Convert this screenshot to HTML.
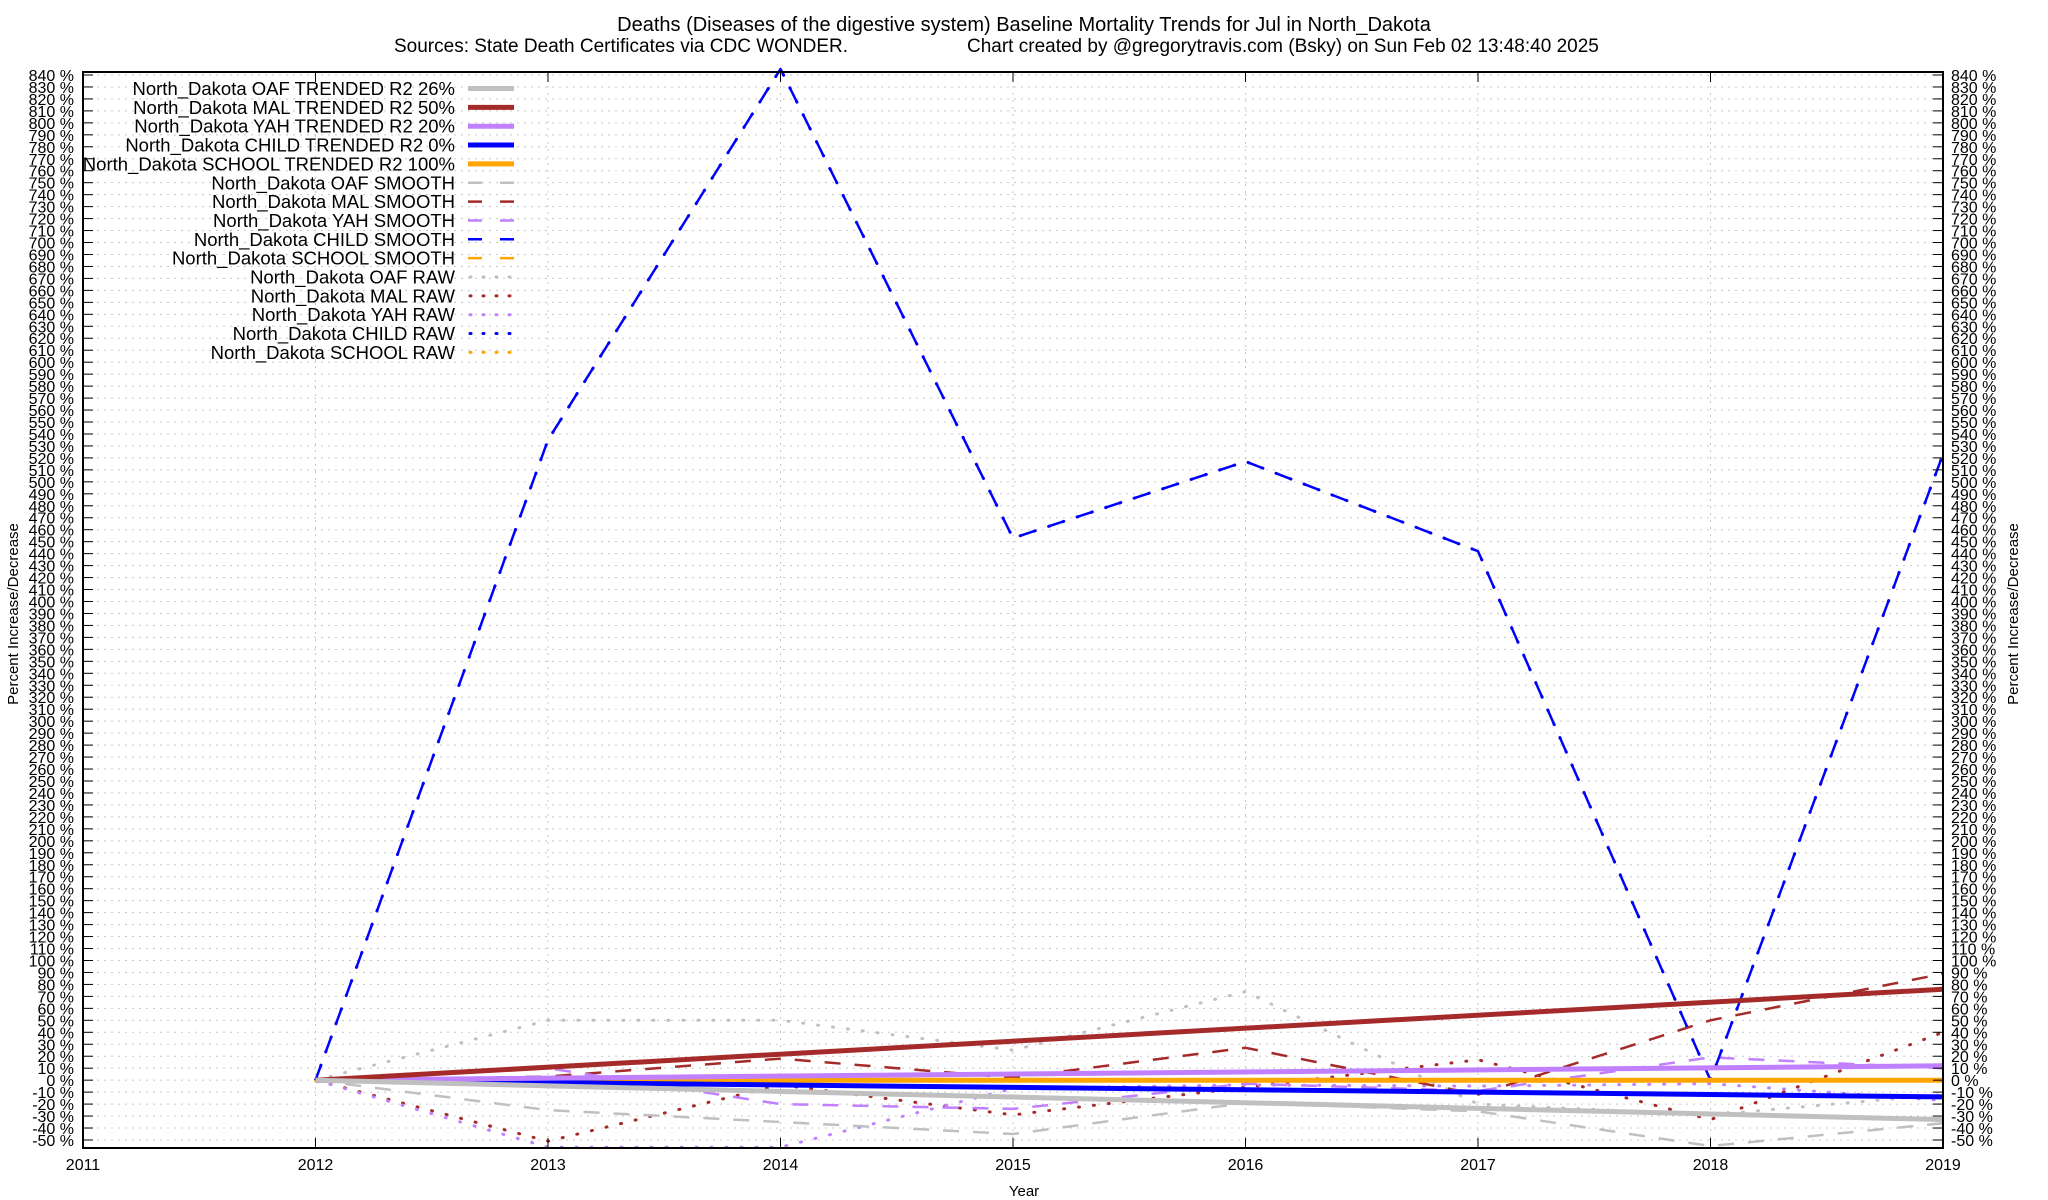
<!DOCTYPE html>
<html><head><meta charset="utf-8">
<style>
html,body{margin:0;padding:0;background:#fff;}
svg{display:block;font-family:"Liberation Sans",Arial,sans-serif;}
</style></head>
<body>
<svg id="chart" width="2048" height="1200" viewBox="0 0 2048 1200" xmlns="http://www.w3.org/2000/svg">
<g id="grid"></g>
<g id="series"></g>
<rect x="83" y="72" width="1860" height="1076" fill="none" stroke="#000" stroke-width="2"/>
<g id="axes"></g>
<text x="1024" y="31" font-size="20" text-anchor="middle">Deaths (Diseases of the digestive system)  Baseline Mortality Trends for Jul in North_Dakota</text>
<text x="394" y="52" font-size="19">Sources: State Death Certificates via CDC WONDER.</text>
<text x="967" y="52" font-size="19">Chart created by @gregorytravis.com (Bsky) on Sun Feb 02 13:48:40 2025</text>
<text transform="translate(18,614) rotate(-90)" font-size="15" text-anchor="middle">Percent Increase/Decrease</text>
<text transform="translate(2018,614) rotate(-90)" font-size="15" text-anchor="middle">Percent Increase/Decrease</text>
<text x="1024" y="1196" font-size="15" text-anchor="middle">Year</text>
<g id="legend"></g>
</svg>
<script>
const years = [2012, 2013, 2014, 2015, 2016, 2017, 2018, 2019];
const xTicks = [2011, 2012, 2013, 2014, 2015, 2016, 2017, 2018, 2019];
const oafTrend = [0, null, null, null, null, null, null, -33];
const malTrend = [0, null, null, null, null, null, null, 76];
const yahTrend = [0, null, null, null, null, null, null, 12];
const childTrend = [0, null, null, null, null, null, null, -14];
const schoolTrend = [0, null, null, null, null, null, null, 0];
const oafSmooth = [0, -25, -35, -45, -19, -26, -55, -36];
const malSmooth = [0, 3, 18, 2, 27, -12, 50, 89];
const yahSmooth = [0, 10, -20, -24, -3, -9, 19, 10];
const childSmooth = [0, 535, 845, 453, 517, 442, 0, 523];
const schoolSmooth = [0, 0, 0, 0, 0, 0, 0, 0];
const oafRaw = [0, 50, 50, 25, 74, -20, -29, -12];
const malRaw = [0, -51, -4, -29, -6, 17, -33, 40];
const yahRaw = [0, -56, -56, -7, -4, -5, -3, -17];
const childRaw = [0, 535, 845, 453, 517, 442, 0, 523];
const schoolRaw = [0, 0, 0, 0, 0, 0, 0, 0];
const legendLabels = ["North_Dakota OAF TRENDED R2  26%","North_Dakota MAL TRENDED R2  50%","North_Dakota YAH TRENDED R2  20%","North_Dakota CHILD TRENDED R2   0%","North_Dakota SCHOOL TRENDED R2 100%","North_Dakota OAF SMOOTH","North_Dakota MAL SMOOTH","North_Dakota YAH SMOOTH","North_Dakota CHILD SMOOTH","North_Dakota SCHOOL SMOOTH","North_Dakota OAF RAW","North_Dakota MAL RAW","North_Dakota YAH RAW","North_Dakota CHILD RAW","North_Dakota SCHOOL RAW"];

const NS = "http://www.w3.org/2000/svg";
const X0 = 83, X1 = 1943, Y0 = 1148, Y1 = 72;
const yMin = -56.7, yMax = 842.5;
function xs(v){ return X0 + (v - 2011) / 8 * (X1 - X0); }
function ys(v){ return Y0 - (v - yMin) / (yMax - yMin) * (Y0 - Y1); }
function mk(tag, attrs, parent){ const e = document.createElementNS(NS, tag); for (const k in attrs) e.setAttribute(k, attrs[k]); parent.appendChild(e); return e; }

const grid = document.getElementById('grid');
const axes = document.getElementById('axes');
for (let v = -50; v <= 840; v += 10) {
  const y = ys(v);
  const gl = mk('line', {x1: X0, x2: X1, y1: y, y2: y, stroke: '#c8c8c8', 'stroke-width': 1, 'stroke-dasharray': '2,5'}, grid);
  
  
  const t1 = mk('line', {x1: X0, x2: X0 + 10, y1: y, y2: y, stroke: '#000', 'stroke-width': 1}, axes);
  
  
  const t2 = mk('line', {x1: X1 - 10, x2: X1, y1: y, y2: y, stroke: '#000', 'stroke-width': 1}, axes);
  
  
  const l = mk('text', {x: 74, y: y + 6, 'font-size': 16, 'text-anchor': 'end'}, axes);
  l.textContent = v + ' %';
  
  
  const r = mk('text', {x: 1951, y: y + 6, 'font-size': 16}, axes);
  r.textContent = v + ' %';
  
  
}
xTicks.forEach(yr => {
  const x = xs(yr);
  const gl = mk('line', {x1: x, x2: x, y1: Y1, y2: Y0, stroke: '#c8c8c8', 'stroke-width': 1, 'stroke-dasharray': '2,5'}, grid);
  
  
  const t = mk('line', {x1: x, x2: x, y1: Y0 - 10, y2: Y0, stroke: '#000', 'stroke-width': 1}, axes);
  
  
  const t2 = mk('line', {x1: x, x2: x, y1: Y1, y2: Y1 + 10, stroke: '#000', 'stroke-width': 1}, axes);
  
  
  const l = mk('text', {x: x, y: 1170, 'font-size': 16, 'text-anchor': 'middle'}, axes);
  l.textContent = yr;
  
  
});

const GREY = '#c0c0c0', MAL = '#a52a2a', YAH = '#c080ff', CHILD = '#0000ff', SCHOOL = '#ffa500';
const styles = {
  trend: {w: 5, dash: null},
  smooth: {w: 2.5, dash: '16,14'},
  raw: {w: 3, dash: '1,14', cap: 'round'}
};
const seriesLayer = document.getElementById('series');
function drawSeries(vals, color, kind, name) {
  const st = styles[kind];
  const pts = [];
  vals.forEach((v, i) => { if (v !== null) pts.push(xs(years[i]).toFixed(1) + ',' + ys(v).toFixed(1)); });
  const attrs = {points: pts.join(' '), fill: 'none', stroke: color, 'stroke-width': st.w, 'stroke-linejoin': 'round'};
  if (st.dash) attrs['stroke-dasharray'] = st.dash;
  if (st.cap) attrs['stroke-linecap'] = st.cap;
  const p = mk('polyline', attrs, seriesLayer);
  
  
}
drawSeries(oafRaw, GREY, 'raw', 'oaf-raw-line');
drawSeries(malRaw, MAL, 'raw', 'mal-raw-line');
drawSeries(yahRaw, YAH, 'raw', 'yah-raw-line');
drawSeries(childRaw, CHILD, 'raw', 'child-raw-line');
drawSeries(schoolRaw, SCHOOL, 'raw', 'school-raw-line');
drawSeries(oafSmooth, GREY, 'smooth', 'oaf-smooth-line');
drawSeries(malSmooth, MAL, 'smooth', 'mal-smooth-line');
drawSeries(yahSmooth, YAH, 'smooth', 'yah-smooth-line');
drawSeries(childSmooth, CHILD, 'smooth', 'child-smooth-line');
drawSeries(schoolSmooth, SCHOOL, 'smooth', 'school-smooth-line');
drawSeries(schoolTrend, SCHOOL, 'trend', 'school-trend-line');
drawSeries(childTrend, CHILD, 'trend', 'child-trend-line');
drawSeries(yahTrend, YAH, 'trend', 'yah-trend-line');
drawSeries(malTrend, MAL, 'trend', 'mal-trend-line');
drawSeries(oafTrend, GREY, 'trend', 'oaf-trend-line');

const legend = document.getElementById('legend');
const legColors = [GREY, MAL, YAH, CHILD, SCHOOL];
const legKinds = ['trend', 'smooth', 'raw'];
legendLabels.forEach((lab, i) => {
  const y = 88.5 + i * 18.85;
  const kind = legKinds[Math.floor(i / 5)];
  const color = legColors[i % 5];
  const t = mk('text', {x: 455, y: y + 6.5, 'font-size': 18.5, 'text-anchor': 'end'}, legend);
  t.textContent = lab;
  
  
  const st = styles[kind];
  const a = {x1: 468, x2: 514, y1: y, y2: y, stroke: color, 'stroke-width': st.w};
  if (kind === 'smooth') a['stroke-dasharray'] = '14,18';
  if (kind === 'raw') { a['stroke-dasharray'] = '1,12'; a['stroke-linecap'] = 'round'; a.x1 = 470; }
  const s = mk('line', a, legend);
  
  
});
</script>
</body></html>
